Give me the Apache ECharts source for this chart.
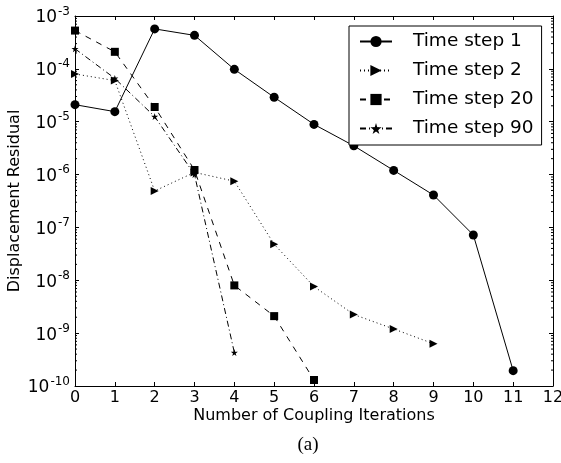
<!DOCTYPE html>
<html>
<head>
<meta charset="utf-8">
<script src="https://cdn.jsdelivr.net/npm/echarts@6/dist/echarts.min.js"></script>
<style>
  html, body { margin: 0; padding: 0; background: #fff; }
  #chart { width: 561px; height: 463px; }
</style>
</head>
<body>
<div id="chart"></div>
<script>
// data
var iterations = [0, 1, 2, 3, 4, 5, 6, 7, 8, 9, 10, 11];
var step1  = [2.1e-5, 1.55e-5, 5.7e-4, 4.3e-4, 9.8e-5, 2.9e-5, 8.9e-6, 3.5e-6, 1.2e-6, 4.1e-7, 7.2e-8, 1.95e-10];
var step2  = [8.0e-5, 6.0e-5, 4.9e-7, 1.1e-6, 7.5e-7, 4.8e-8, 7.6e-9, 2.25e-9, 1.2e-9, 6.3e-10];
var step20 = [5.3e-4, 2.1e-4, 1.9e-5, 1.22e-6, 8.0e-9, 2.1e-9, 1.3e-10];
var step90 = [2.4e-4, 6.6e-5, 1.25e-5, 1.0e-6, 4.3e-10];
var seriesNames = ['Time step 1', 'Time step 2', 'Time step 20', 'Time step 90'];

// minor log ticks (2..9 per decade)
var decades = [-10, -9, -8, -7, -6, -5, -4];
var minorMult = [2, 3, 4, 5, 6, 7, 8, 9];
var MINOR_TICKS = [];
decades.forEach(function (d) {
    minorMult.forEach(function (m) { MINOR_TICKS.push(m * Math.pow(10, d)); });
});

function pairs(ys) {
    return ys.map(function (y, i) { return [iterations[i], y]; });
}

var STAR = 'path://M50,0 L61,35 L98,35 L68,57 L79,91 L50,70 L21,91 L32,57 L2,35 L39,35 Z';
var TRI_R = 'path://M0,0 L10,5 L0,10 Z';
var FONT = 'DejaVu Sans';

var chart = echarts.init(document.getElementById('chart'));

var option = {
    animation: false,
    backgroundColor: '#fff',
    textStyle: { fontFamily: FONT, color: '#000' },
    grid: { left: 75, right: 8, top: 16, bottom: 77, outerBoundsMode: 'none', containLabel: false },
    legend: {
        data: seriesNames,
        orient: 'vertical',
        left: 349,
        top: 26,
        padding: [6, 8, 7, 10],
        itemWidth: 32,
        itemHeight: 14,
        itemGap: 10,
        borderColor: '#000',
        borderWidth: 1,
        borderRadius: 0,
        backgroundColor: '#fff',
        textStyle: { fontFamily: FONT, fontSize: 18.5, color: '#000', padding: [0, 0, 0, 16] },
        z: 10
    },
    xAxis: [{
        type: 'value',
        min: 0, max: 12, interval: 1,
        name: 'Number of Coupling Iterations',
        nameLocation: 'middle',
        nameGap: 22,
        nameMoveOverlap: false,
        nameTextStyle: { fontFamily: FONT, fontSize: 16, color: '#000' },
        axisLine: { onZero: false, lineStyle: { color: '#000', width: 1 } },
        axisTick: { inside: true, length: 4, lineStyle: { color: '#000' } },
        axisLabel: { fontFamily: FONT, fontSize: 16, color: '#000', margin: 4 },
        splitLine: { show: false }
    }, {
        type: 'value',
        position: 'top',
        min: 0, max: 12, interval: 1,
        axisLine: { onZero: false, lineStyle: { color: '#000', width: 1 } },
        axisTick: { inside: true, length: 4, lineStyle: { color: '#000' } },
        axisLabel: { show: false },
        splitLine: { show: false }
    }],
    yAxis: [{
        type: 'log',
        logBase: 10,
        min: 1e-10, max: 1e-3,
        name: 'Displacement Residual',
        nameLocation: 'middle',
        nameGap: 52,
        nameMoveOverlap: false,
        nameTextStyle: { fontFamily: FONT, fontSize: 16, color: '#000' },
        axisLine: { show: true, onZero: false, lineStyle: { color: '#000', width: 1 } },
        axisTick: { show: true, inside: true, length: 4, lineStyle: { color: '#000' } },
        axisLabel: {
            margin: 5,
            formatter: function (v) {
                var e = Math.round(Math.log10(v));
                return '{b|10}{s|' + e + '}';
            },
            rich: {
                b: { fontFamily: FONT, fontSize: 17, color: '#000', padding: [4, 0, 0, 0] },
                s: { fontFamily: FONT, fontSize: 12, color: '#000', verticalAlign: 'top', padding: [0, 0, 9, 1] }
            }
        },
        splitLine: { show: false }
    }, {
        type: 'log',
        logBase: 10,
        min: 1e-10, max: 1e-3,
        position: 'right',
        axisLine: { show: true, onZero: false, lineStyle: { color: '#000', width: 1 } },
        axisTick: { show: true, inside: true, length: 4, lineStyle: { color: '#000' } },
        axisLabel: { show: false },
        splitLine: { show: false }
    }],
    series: [{
        name: 'Time step 1',
        type: 'line',
        data: pairs(step1),
        symbol: 'circle',
        symbolSize: 9,
        itemStyle: { color: '#000' },
        lineStyle: { color: '#000', width: 1, type: 'solid' }
    }, {
        name: 'Time step 2',
        type: 'line',
        data: pairs(step2),
        symbol: TRI_R,
        symbolSize: 8,
        itemStyle: { color: '#000' },
        lineStyle: { color: '#000', width: 1, type: [1, 3] }
    }, {
        name: 'Time step 20',
        type: 'line',
        data: pairs(step20),
        symbol: 'rect',
        symbolSize: 8,
        itemStyle: { color: '#000' },
        lineStyle: { color: '#000', width: 1, type: [6, 6] }
    }, {
        name: 'Time step 90',
        type: 'line',
        data: pairs(step90),
        symbol: STAR,
        symbolSize: 7,
        itemStyle: { color: '#000' },
        lineStyle: { color: '#000', width: 1, type: [6, 3, 1, 3] }
    }, {
        name: 'minor ticks',
        type: 'custom',
        silent: true,
        clip: false,
        data: [[0, 1e-5]],
        renderItem: function (params, api) {
            var children = [];
            MINOR_TICKS.forEach(function (v) {
                var l = api.coord([0, v]);
                var r = api.coord([12, v]);
                children.push({ type: 'line', shape: { x1: l[0], y1: l[1], x2: l[0] + 2, y2: l[1] }, style: { stroke: '#000', lineWidth: 1 } });
                children.push({ type: 'line', shape: { x1: r[0] - 2, y1: r[1], x2: r[0], y2: r[1] }, style: { stroke: '#000', lineWidth: 1 } });
            });
            return { type: 'group', children: children };
        }
    }],
    graphic: [{
        type: 'text',
        x: 308,
        y: 445,
        style: {
            text: '(a)',
            fontFamily: 'Liberation Serif',
            fontSize: 19,
            fill: '#000',
            textAlign: 'center',
            textVerticalAlign: 'middle'
        }
    }]
};

chart.setOption(option);
</script>
</body>
</html>
